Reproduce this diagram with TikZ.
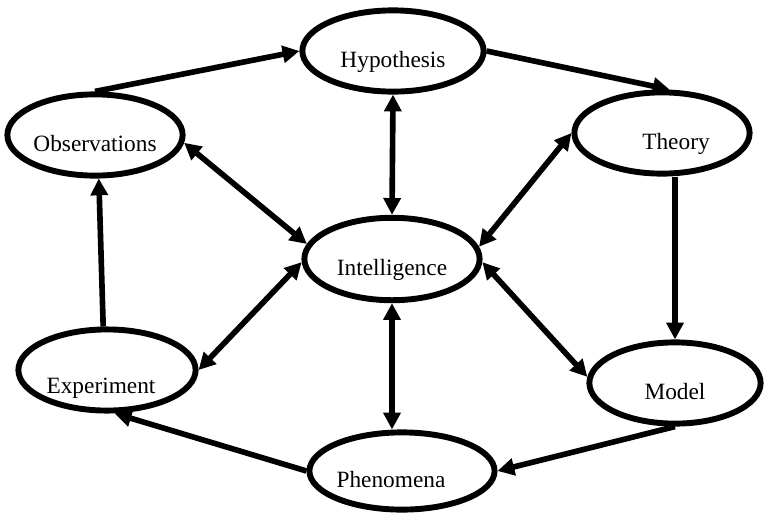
\documentclass[tikz,border=0pt]{standalone}
\usepackage{fontspec}
\setmainfont{Liberation Serif}
\usetikzlibrary{arrows.meta, shapes.geometric}

\begin{document}
\begin{tikzpicture}[
  x=0.025cm, y=-0.025cm,
  blob/.style={draw, ellipse, line width=4.2pt, minimum width=4.38cm, minimum height=2.03cm, inner sep=0pt, text height=26.8pt, text depth=4pt, font=\fontsize{16.6pt}{20pt}\selectfont},
  flow/.style={-{Triangle[length=0.42cm, width=0.42cm]}, line width=4pt},
  both/.style={{Triangle[length=0.42cm, width=0.42cm]}-{Triangle[length=0.42cm, width=0.42cm]}, line width=4pt}
]
\useasboundingbox (0,0) rectangle (764,515);

% Ellipses
\node[blob, minimum width=4.53cm] (hyp) at (393,51) {Hypothesis};
\node[blob] (obs) at (95,135) {Observations};
\node[blob] (theory) at (662,133) {\hspace*{0.7cm}Theory};
\node[blob, minimum height=2.06cm] (intel) at (392,259) {Intelligence};
\node[blob, minimum width=4.43cm, minimum height=1.98cm, text height=36.8pt] (exp) at (107,370) {Experiment\hspace*{0.3cm}};
\node[blob, minimum width=4.28cm] (model) at (675,383) {Model};
\node[blob, minimum height=1.93cm] (phen) at (402,471) {Phenomena\hspace*{0.55cm}};

% Outer cycle
\draw[flow] (obs.north) -- (hyp.west);
\draw[flow] (hyp.east) -- (theory.80);
\draw[flow] (theory.south -| model.north) -- (model.north);
\draw[flow] (model.south) -- (phen.east);
\draw[flow] (phen.west) -- (exp.-80);
\draw[flow] (exp.95) -- (obs.-85);

% Links to Intelligence
\draw[both] (hyp.south) -- (intel.north);
\draw[both] (obs.-5) -- (intel.170);
\draw[both] (theory.west) -- (intel.8);
\draw[both] (exp.east) -- (intel.-178);
\draw[both] (model.176) -- (intel.-2);
\draw[both] (intel.south) -- (intel.south |- phen.north);

\end{tikzpicture}
\end{document}
